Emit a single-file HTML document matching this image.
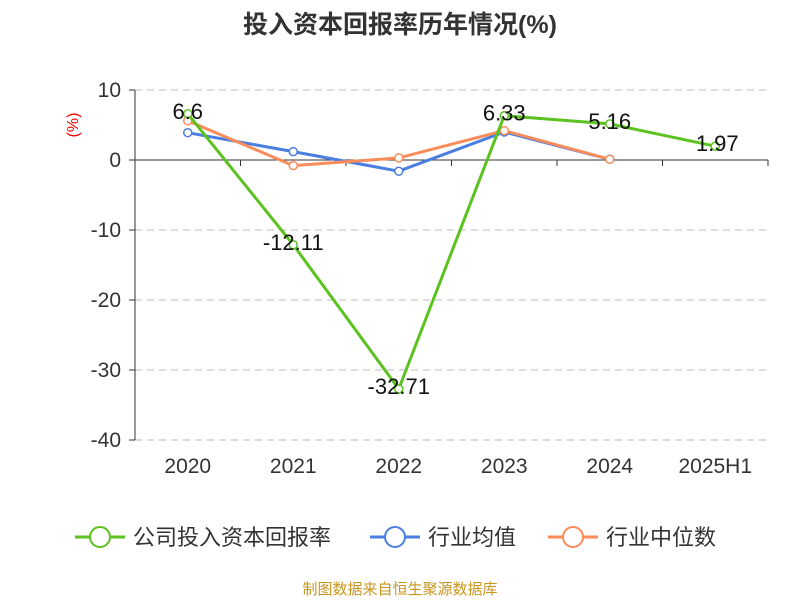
<!DOCTYPE html>
<html><head><meta charset="utf-8"><style>
body{margin:0;background:#fff;font-family:"Liberation Sans","Noto Sans CJK SC",sans-serif}
</style></head><body>
<svg width="800" height="600" xmlns="http://www.w3.org/2000/svg" font-family="Liberation Sans, Noto Sans CJK SC, sans-serif">
<text x="400" y="33" text-anchor="middle" font-size="25" font-weight="bold" fill="#333">投入资本回报率历年情况(%)</text>
<text x="78" y="125" font-size="16" fill="#e00" transform="rotate(-90 78 125)" text-anchor="middle">(%)</text>
<g id="grid"></g><g id="axes"></g><g id="series"></g>
<g id="legend"></g>
<text x="400" y="594" text-anchor="middle" font-size="15" fill="#c8961e">制图数据来自恒生聚源数据库</text>
</svg>
<script>
const categories=["2020","2021","2022","2023","2024","2025H1"];
const company=[6.6,-12.11,-32.71,6.33,5.16,1.97];
const industryAvg=[3.9,1.2,-1.6,4.0,0.1,null];
const industryMedian=[5.6,-0.8,0.3,4.2,0.1,null];
const yTicks=[10,0,-10,-20,-30,-40];
const NS="http://www.w3.org/2000/svg";
const x0=135,x1=768,step=(x1-x0)/6;
const X=i=>x0+step*(i+0.5);
const Y=v=>160-v*7;
function mk(t,a,p){const e=document.createElementNS(NS,t);for(const k in a)e.setAttribute(k,a[k]);p.appendChild(e);return e;}
const grid=document.getElementById('grid'),axes=document.getElementById('axes'),ser=document.getElementById('series'),leg=document.getElementById('legend');
yTicks.forEach(v=>{
 if(v!==0){const l=mk('line',{x1:x0,x2:x1,y1:Y(v),y2:Y(v),stroke:'#bbb','stroke-dasharray':'7,5'},grid);
 
 }
 const t=mk('text',{x:x0-14,y:Y(v)+7,'text-anchor':'end','font-size':21,fill:'#333'},axes);t.textContent=v;
 
 
 mk('line',{x1:x0-6,x2:x0,y1:Y(v),y2:Y(v),stroke:'#333'},axes);
});
const ya=mk('line',{x1:x0,x2:x0,y1:Y(10),y2:Y(-40),stroke:'#333'},axes);


const xa=mk('line',{x1:x0,x2:x1,y1:Y(0),y2:Y(0),stroke:'#333'},axes);


for(let i=0;i<=6;i++)mk('line',{x1:x0+step*i,x2:x0+step*i,y1:Y(0),y2:Y(0)+6,stroke:'#333'},axes);
categories.forEach((c,i)=>{const t=mk('text',{x:X(i),y:473,'text-anchor':'middle','font-size':21,fill:'#333'},axes);t.textContent=c;
 
 });
function line(data,color,name,labels){
 const g=mk('g',{},ser);
 
 
 const pts=data.map((v,i)=>v==null?null:[X(i),Y(v)]).filter(p=>p);
 mk('polyline',{points:pts.map(p=>p.join(',')).join(' '),fill:'none',stroke:color,'stroke-width':3},g);
 data.forEach((v,i)=>{if(v==null)return;
  const c=mk('circle',{cx:X(i),cy:Y(v),r:4,fill:'#fff',stroke:color,'stroke-width':1.5},g);
  
  
  if(labels){const t=mk('text',{x:X(i)+(i==5?2:0),y:Y(v)+5,'text-anchor':'middle','font-size':22,fill:'#111'},g);t.textContent=v;
   
   }
 });
}
line(industryAvg,'#4a7ee0','industry-average-series');
line(industryMedian,'#f98c5a','industry-median-series');
line(company,'#5cc21f','company-series',true);
const items=[['公司投入资本回报率','#5cc21f',75],['行业均值','#4a7ee0',370],['行业中位数','#f98c5a',548]];
items.forEach(([n,c,x])=>{const g=mk('g',{},leg);
 
 
 mk('line',{x1:x,x2:x+50,y1:537,y2:537,stroke:c,'stroke-width':3},g);
 mk('circle',{cx:x+25,cy:537,r:10,fill:'#fff',stroke:c,'stroke-width':2},g);
 const t=mk('text',{x:x+58,y:545,'font-size':22,fill:'#333'},g);t.textContent=n;});
</script>
</body></html>
